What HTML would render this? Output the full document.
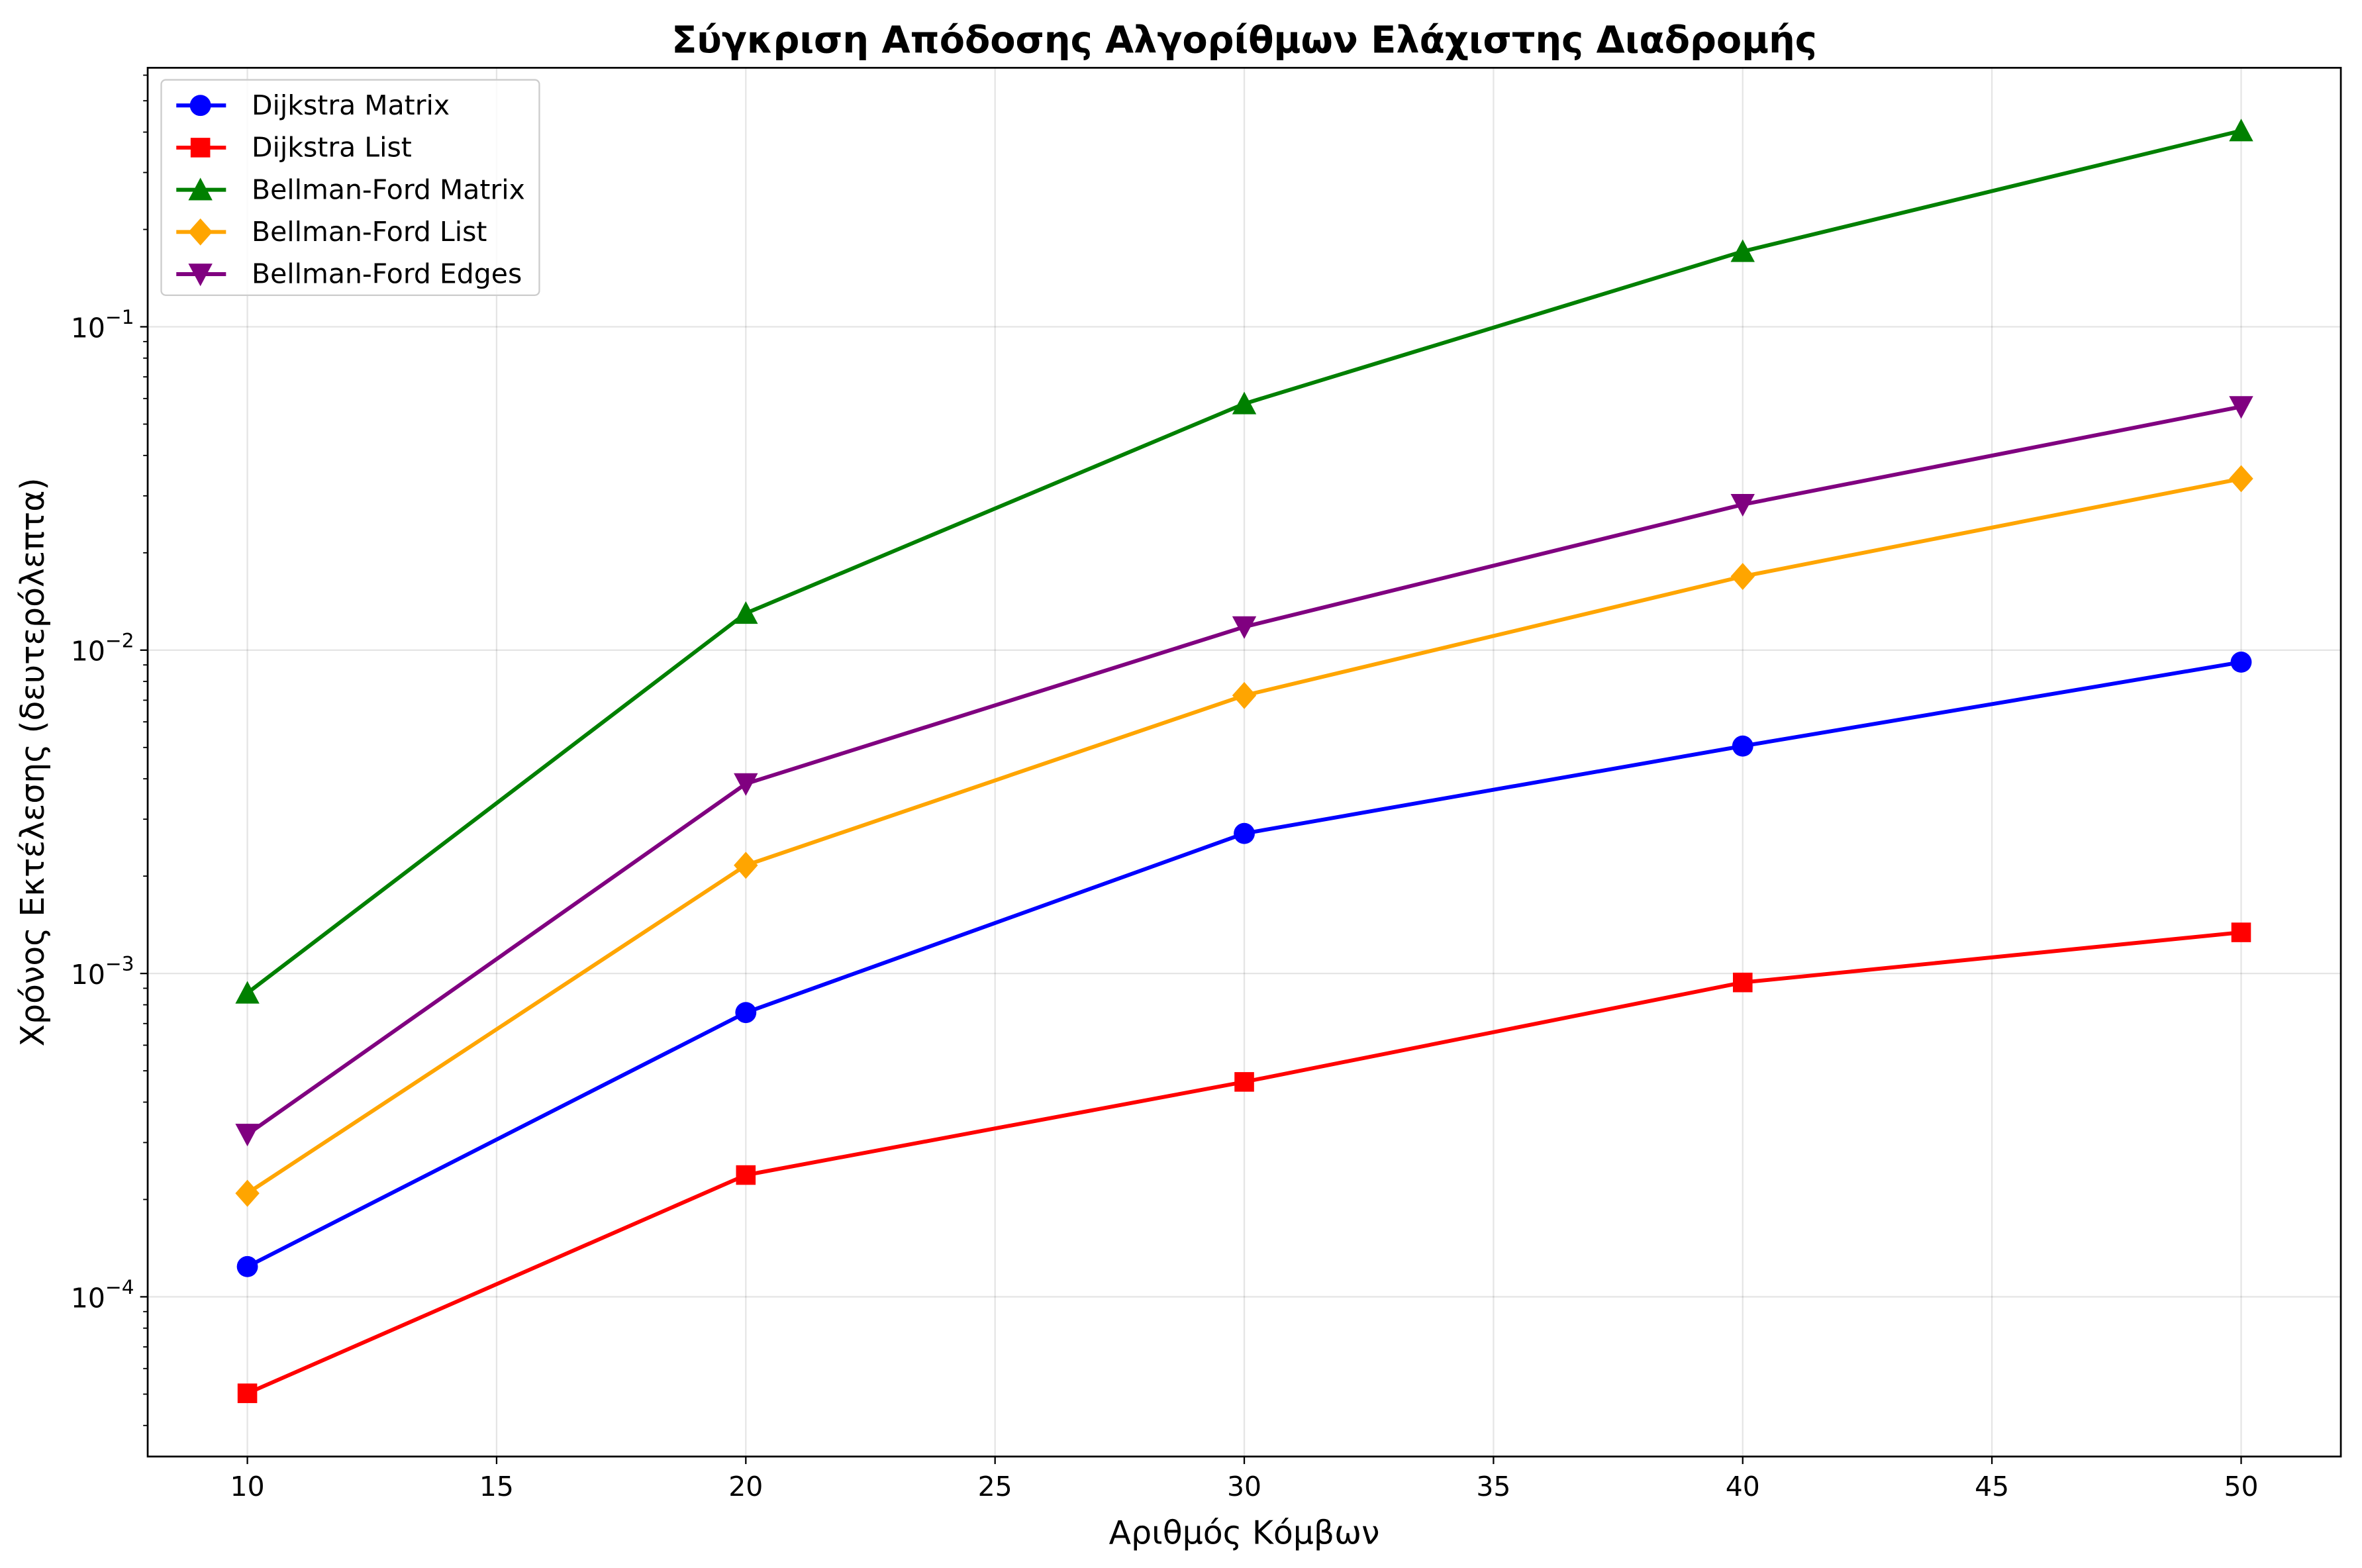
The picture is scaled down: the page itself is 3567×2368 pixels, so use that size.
<!DOCTYPE html>
<html><head><meta charset="utf-8"><style>
html,body{margin:0;padding:0;background:#fff}
svg{display:block;font-family:"DejaVu Sans","Liberation Sans",sans-serif}
</style></head><body>
<svg id="chart" width="3567" height="2368" viewBox="0 0 1568 1041" xmlns="http://www.w3.org/2000/svg">
<rect x="0" y="0" width="1568" height="1041" fill="#fff"/>
<text x="826" y="35" text-anchor="middle" font-size="24.5" font-weight="bold">Σύγκριση Απόδοσης Αλγορίθμων Ελάχιστης Διαδρομής</text>
<g id="grid"></g>
<g id="axes"></g>
<g id="series"></g>
<rect x="98" y="45" width="1456" height="922" fill="none" stroke="#000" stroke-width="1.2"/>
<text x="826" y="1025" text-anchor="middle" font-size="21.5">Αριθμός Κόμβων</text>
<text transform="translate(29,506) rotate(-90)" text-anchor="middle" font-size="21.5">Χρόνος Εκτέλεσης (δευτερόλεπτα)</text>
<g id="legend"></g>
</svg>
<script>
const nodes = [10, 20, 30, 40, 50];
const seriesNames = ["Dijkstra Matrix", "Dijkstra List", "Bellman-Ford Matrix", "Bellman-Ford List", "Bellman-Ford Edges"];
const dijkstraMatrix = [1.24e-4, 7.57e-4, 2.71e-3, 5.05e-3, 9.18e-3];
const dijkstraList = [5.03e-5, 2.38e-4, 4.62e-4, 9.38e-4, 1.34e-3];
const bellmanMatrix = [8.7e-4, 1.30e-2, 5.78e-2, 0.171, 0.404];
const bellmanList = [2.09e-4, 2.16e-3, 7.24e-3, 1.69e-2, 3.39e-2];
const bellmanEdges = [3.18e-4, 3.86e-3, 1.18e-2, 2.82e-2, 5.66e-2];
const xTicks = [10, 15, 20, 25, 30, 35, 40, 45, 50];
const yDecades = [-4, -3, -2, -1];

const NS = "http://www.w3.org/2000/svg";
const L = 98, R = 1554, T = 45, B = 967;
const xMin = 8, xMax = 52, yMinLog = -4.494, yMaxLog = -0.199;
function xs(v){ return L + (v - xMin) / (xMax - xMin) * (R - L); }
function ys(v){ return B - (Math.log10(v) - yMinLog) / (yMaxLog - yMinLog) * (B - T); }
function mk(tag, attrs, parent){ const e = document.createElementNS(NS, tag); for (const k in attrs) e.setAttribute(k, attrs[k]); parent.appendChild(e); return e; }

const grid = document.getElementById("grid"), axes = document.getElementById("axes");
xTicks.forEach(t => {
  const x = xs(t);
  const g = mk("line", {x1:x, x2:x, y1:T, y2:B, stroke:"#000", "stroke-opacity":0.1, "stroke-width":1}, grid);
  
  
  const tk = mk("line", {x1:x, x2:x, y1:B, y2:B+5, stroke:"#000", "stroke-width":1}, axes);
  
  
  const lb = mk("text", {x:x, y:B+26, "text-anchor":"middle", "font-size":"18"}, axes);
  lb.textContent = t;
  
  
});
yDecades.forEach(d => {
  const y = ys(Math.pow(10, d));
  const g = mk("line", {x1:L, x2:R, y1:y, y2:y, stroke:"#000", "stroke-opacity":0.1, "stroke-width":1}, grid);
  
  
  const tk = mk("line", {x1:L-5, x2:L, y1:y, y2:y, stroke:"#000", "stroke-width":1}, axes);
  
  
  const lb = mk("text", {x:L-9, y:y+7, "text-anchor":"end", "font-size":"18"}, axes);
  
  
  const t1 = mk("tspan", {}, lb); t1.textContent = "10";
  const t2 = mk("tspan", {dy:-9, "font-size":"13"}, lb); t2.textContent = "\u2212" + Math.abs(d);
});
for (let d = -5; d <= -1; d++) for (let m = 2; m <= 9; m++) {
  const v = m * Math.pow(10, d), lv = Math.log10(v);
  if (lv < yMinLog || lv > yMaxLog) continue;
  const y = ys(v);
  const tk = mk("line", {x1:L-3, x2:L, y1:y, y2:y, stroke:"#000", "stroke-width":0.8}, axes);
  
  
}

const colors = ["#0000ff", "#ff0000", "#008000", "#ffa500", "#800080"];
const markers = ["circle", "square", "tri-up", "diamond", "tri-down"];
const allData = [dijkstraMatrix, dijkstraList, bellmanMatrix, bellmanList, bellmanEdges];
function marker(type, x, y, c, parent){
  let e;
  if (type === "circle") e = mk("circle", {cx:x, cy:y, r:7, fill:c}, parent);
  else if (type === "square") e = mk("rect", {x:x-6.5, y:y-6.5, width:13, height:13, fill:c}, parent);
  else if (type === "tri-up") e = mk("polygon", {points:`${x},${y-8} ${x-8},${y+7} ${x+8},${y+7}`, fill:c}, parent);
  else if (type === "tri-down") e = mk("polygon", {points:`${x},${y+8} ${x-8},${y-7} ${x+8},${y-7}`, fill:c}, parent);
  else e = mk("polygon", {points:`${x},${y-9} ${x+8},${y} ${x},${y+9} ${x-8},${y}`, fill:c}, parent);
  return e;
}
const sg = document.getElementById("series");
allData.forEach((arr, i) => {
  const g = mk("g", {}, sg);
  
  
  const pts = arr.map((v, j) => xs(nodes[j]) + "," + ys(v)).join(" ");
  const pl = mk("polyline", {points:pts, fill:"none", stroke:colors[i], "stroke-width":2.6}, g);
  
  
  arr.forEach((v, j) => {
    const m = marker(markers[i], xs(nodes[j]), ys(v), colors[i], g);
    
    
  });
});

const lg = document.getElementById("legend");


mk("rect", {x:107, y:53, width:251, height:143, rx:3, fill:"#fff", "fill-opacity":0.8, stroke:"#ccc", "stroke-width":1}, lg);
seriesNames.forEach((n, i) => {
  const y = 70 + i * 28;
  const g = mk("g", {}, lg);
  
  
  mk("line", {x1:117, x2:150, y1:y, y2:y, stroke:colors[i], "stroke-width":2.6}, g);
  marker(markers[i], 133, y, colors[i], g);
  const t = mk("text", {x:167, y:y+6, "font-size":"18"}, g);
  t.textContent = n;
});
</script>
</body></html>
